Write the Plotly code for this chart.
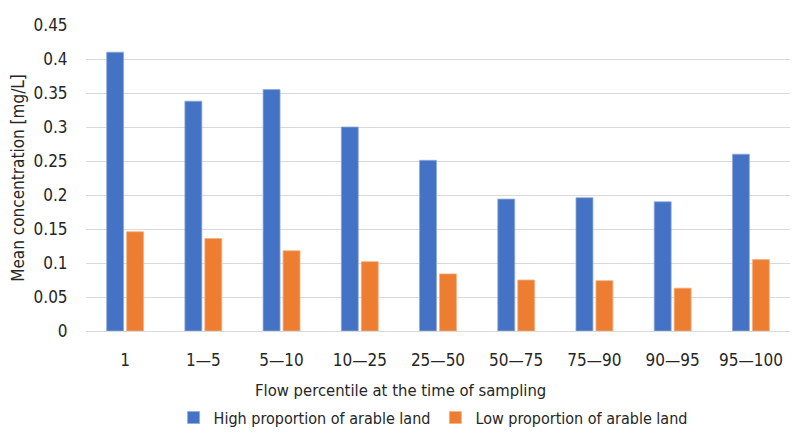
import plotly.graph_objects as go

categories = ["1", "1\u20145", "5\u201410", "10\u201425", "25\u201450", "50\u201475", "75\u201490", "90\u201495", "95\u2014100"]
high_arable = [0.410, 0.338, 0.355, 0.300, 0.251, 0.194, 0.196, 0.190, 0.260]
low_arable = [0.146, 0.136, 0.118, 0.102, 0.084, 0.075, 0.074, 0.063, 0.105]
y_ticks = [0, 0.05, 0.1, 0.15, 0.2, 0.25, 0.3, 0.35, 0.4, 0.45]

font_family = "DejaVu Sans Condensed, Roboto, sans-serif"

fig = go.Figure()
fig.add_trace(go.Bar(x=categories, y=high_arable, name="High proportion of arable land",
                     marker=dict(color="#4472C4", line=dict(color="#8faadc", width=0.8))))
fig.add_trace(go.Bar(x=categories, y=low_arable, name="Low proportion of arable land",
                     marker=dict(color="#ED7D31", line=dict(color="#f4b183", width=0.8))))

# page body has a default 8px margin on every side, so keep the figure 16px smaller than the window
fig.update_layout(
    width=784, height=428,
    margin=dict(l=78, r=2, t=17, b=96),
    paper_bgcolor="white", plot_bgcolor="white",
    font=dict(family=font_family, color="#262626", size=17),
    barmode="group", bargap=0.49, bargroupgap=0.15,
    showlegend=True,
    legend=dict(orientation="h", x=0.493, xanchor="center", y=-0.283, yanchor="middle",
                font=dict(size=16), itemwidth=30, traceorder="normal"),
    xaxis=dict(
        automargin=False,
        ticks="outside", ticklen=14, tickcolor="rgba(0,0,0,0)",
        showline=True, linecolor="#d9d9d9", linewidth=1,
        tickfont=dict(size=17),
    ),
    yaxis=dict(
        automargin=False,
        title=dict(text="Mean concentration [mg/L]", font=dict(size=17), standoff=4),
        range=[0, 0.45], tickvals=y_ticks, ticktext=[f"{v:g}" for v in y_ticks],
        ticks="outside", ticklen=14, tickcolor="rgba(0,0,0,0)",
        showgrid=True, gridcolor="#d9d9d9", gridwidth=1,
        zeroline=False, tickfont=dict(size=17),
    ),
    annotations=[dict(text="Flow percentile at the time of sampling", xref="paper", yref="paper",
                      x=0.447, y=-0.194, xanchor="center", yanchor="middle",
                      showarrow=False, font=dict(size=16.5))],
)

fig.write_html("out.html")
